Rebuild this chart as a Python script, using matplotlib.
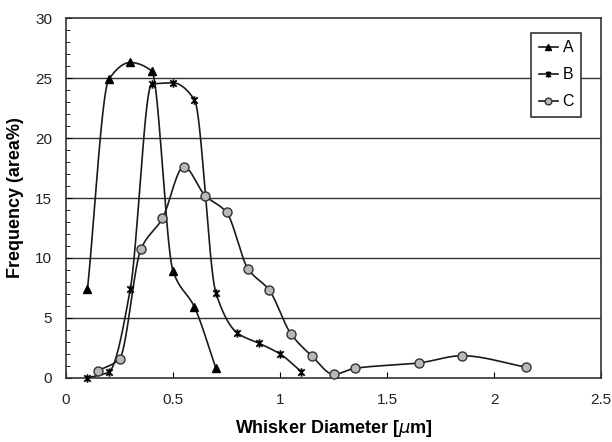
import numpy as np
import matplotlib
matplotlib.use("Agg")
import matplotlib.pyplot as plt
from matplotlib.path import Path

plt.rcParams['font.family'] = ['Liberation Sans', 'DejaVu Sans']

# Data
a_x = [0.1, 0.2, 0.3, 0.4, 0.5, 0.6, 0.7]
a_y = [7.4, 24.9, 26.3, 25.6, 8.9, 5.9, 0.8]

b_x = [0.1, 0.2, 0.3, 0.4, 0.5, 0.6, 0.7, 0.8, 0.9, 1.0, 1.1]
b_y = [0.0, 0.5, 7.4, 24.5, 24.6, 23.2, 7.1, 3.75, 2.9, 2.0, 0.5]

c_x = [0.15, 0.25, 0.35, 0.45, 0.55, 0.65, 0.75, 0.85, 0.95, 1.05, 1.15, 1.25, 1.35, 1.65, 1.85, 2.15]
c_y = [0.6, 1.6, 10.75, 13.3, 17.6, 15.2, 13.8, 9.1, 7.3, 3.7, 1.8, 0.3, 0.8, 1.25, 1.85, 0.9]

series_names = ['A', 'B', 'C']
x_ticks = [0, 0.5, 1, 1.5, 2, 2.5]
x_tick_labels = ['0', '0.5', '1', '1.5', '2', '2.5']
y_ticks = [0, 5, 10, 15, 20, 25, 30]


def smooth(x, y, n=40):
    # monotone cubic (Fritsch-Carlson) curve through the points
    x = np.asarray(x, float); y = np.asarray(y, float)
    h = np.diff(x); d = np.diff(y) / h
    m = np.zeros_like(y)
    m[0] = d[0]; m[-1] = d[-1]
    for i in range(1, len(y) - 1):
        if d[i-1] * d[i] <= 0:
            m[i] = 0.0
        else:
            w1 = 2*h[i] + h[i-1]; w2 = h[i] + 2*h[i-1]
            m[i] = (w1 + w2) / (w1 / d[i-1] + w2 / d[i])
    xs, ys = [], []
    for i in range(len(x) - 1):
        t = np.linspace(0, 1, n)
        h00 = 2*t**3 - 3*t**2 + 1; h10 = t**3 - 2*t**2 + t
        h01 = -2*t**3 + 3*t**2; h11 = t**3 - t**2
        xs.extend(x[i] + t*h[i])
        ys.extend(h00*y[i] + h10*h[i]*m[i] + h01*y[i+1] + h11*h[i]*m[i+1])
    return np.array(xs), np.array(ys)


star = Path([(-1, -1), (1, 1), (-1, 1), (1, -1), (0, -1.3), (0, 1.3)],
            [Path.MOVETO, Path.LINETO, Path.MOVETO, Path.LINETO, Path.MOVETO, Path.LINETO])

fig = plt.figure(figsize=(6.12, 4.42), dpi=100)
ax = fig.add_axes([0.108, 0.145, 0.874, 0.814])

ax.set_xlim(0, 2.5)
ax.set_ylim(0, 30)
for yv in y_ticks[1:-1]:
    ax.axhline(yv, color='#333333', lw=1.0, zorder=1)

lc = '#1a1a1a'
styles = [
    dict(marker='^', ms=6, mfc='black', mec='black'),
    dict(marker=star, ms=6, mfc='none', mec='black', mew=1.3),
    dict(marker='o', ms=6.5, mfc='#b8b8b8', mec='#333333', mew=1.0),
]
data = [(a_x, a_y), (b_x, b_y), (c_x, c_y)]
for (xx, yy), st, name in zip(data, styles, series_names):
    sx, sy = smooth(xx, yy)
    ax.plot(sx, sy, color=lc, lw=1.2, zorder=3)
    ax.plot(xx, yy, linestyle='none', zorder=4, clip_on=False, **st)
    ax.plot([], [], color=lc, lw=1.2, label=name,
            **{**st, 'ms': st['ms'] * 0.75})

ax.set_xticks(x_ticks)
ax.set_xticklabels(x_tick_labels)
ax.set_yticks(y_ticks)
ax.set_yticks(np.arange(0, 31, 1), minor=True)
ax.tick_params(axis='both', which='major', direction='in', length=4, labelsize=11,
               labelcolor='#222222')
ax.tick_params(axis='x', which='major', pad=11)
ax.tick_params(axis='y', which='major', pad=10)
ax.tick_params(axis='y', which='minor', direction='in', length=3)
ax.tick_params(axis='x', which='minor', bottom=False)

for s in ax.spines.values():
    s.set_color('#333333')
    s.set_linewidth(1.2)

ax.set_xlabel('Whisker Diameter [$\\mu$m]', fontsize=13, fontweight='bold', labelpad=8)
ax.set_ylabel('Frequency (area%)', fontsize=13, fontweight='bold', labelpad=8)

leg = ax.legend(loc='upper right', bbox_to_anchor=(0.963, 0.958), fontsize=11.5,
                frameon=True, fancybox=False, handlelength=1.2, handletextpad=0.3,
                borderpad=0.45, labelspacing=0.75, borderaxespad=0)
leg.get_frame().set_edgecolor('#333333')
leg.get_frame().set_linewidth(1.2)
leg.get_frame().set_alpha(1)

fig.savefig('out.png', dpi=100)
